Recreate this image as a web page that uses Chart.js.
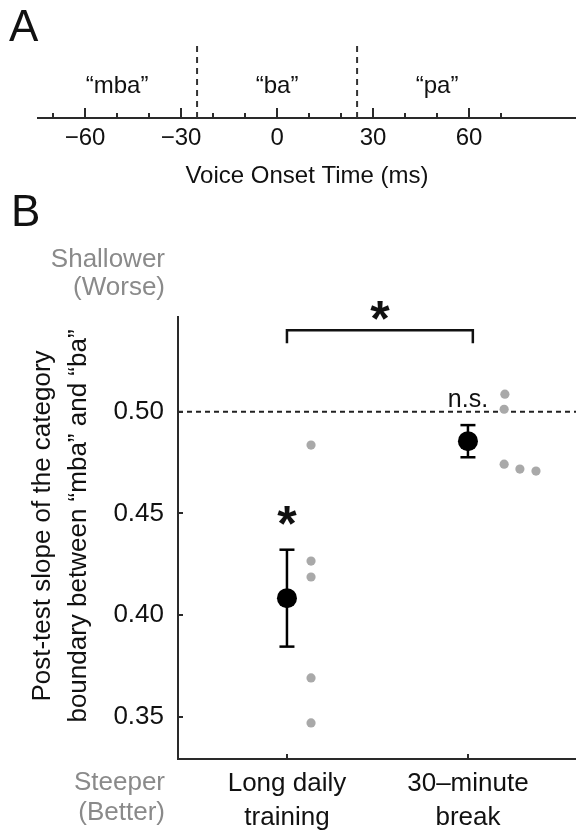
<!DOCTYPE html>
<html><head><meta charset="utf-8">
<script src="https://cdn.jsdelivr.net/npm/chart.js@4"></script>
<style>
html,body{margin:0;padding:0;background:#fff;width:576px;height:834px;overflow:hidden}
canvas{position:absolute;left:0}
#a{top:0}
#b{top:180px}
</style></head><body>
<canvas id="a" width="576" height="200"></canvas>
<canvas id="b" width="576" height="654"></canvas>
<script>
// ---------- Panel A data ----------
const votMajorTicks = [-60, -30, 0, 30, 60];
const votMinorTicks = [-70, -50, -40, -20, -10, 10, 20, 40, 50, 70];
const categoryBoundaries = [-25, 25];
const syllableLabels = ['“mba”', '“ba”', '“pa”'];
const syllableCenters = [-50, 0, 50];

// ---------- Panel B data ----------
const groupTickLabels = [['Long daily', 'training'], ['30–minute', 'break']];
const groupMeans = [0.4084, 0.4855];
const groupSEM = [0.0238, 0.0079];
const longDailyX = [1.133, 1.133, 1.133, 1.133, 1.133];
const longDailySlopes = [0.4836, 0.4266, 0.4188, 0.3692, 0.3471];
const breakX = [2.204, 2.2, 2.2, 2.287, 2.376];
const breakSlopes = [0.5086, 0.5012, 0.4742, 0.4718, 0.4708];
const slopeTicks = [0.35, 0.40, 0.45, 0.50];
const chanceSlope = 0.50;
const bracketX = [1, 2.027];
const bracketY = [0.5336, 0.5400];

const FAM = '"Liberation Sans", Arial, Helvetica, sans-serif';
const INK = '#111';
const AXIS = '#2a2a2a';
const GREY_TXT = '#8a8a8a';
const GREY_DOT = '#a9a9a9';

// ================= Panel A =================
const aMin = -74.7, aMax = 93.4;
const panelAPlugin = {
  id: 'panelA',
  afterDraw(chart) {
    const ctx = chart.ctx, x = chart.scales.x, ca = chart.chartArea;
    ctx.save();
    ctx.strokeStyle = AXIS; ctx.lineWidth = 2;
    votMajorTicks.forEach(v => { const p = Math.round(x.getPixelForValue(v)); ctx.beginPath(); ctx.moveTo(p, ca.bottom); ctx.lineTo(p, ca.bottom - 10); ctx.stroke(); });
    votMinorTicks.forEach(v => { const p = Math.round(x.getPixelForValue(v)); ctx.beginPath(); ctx.moveTo(p, ca.bottom); ctx.lineTo(p, ca.bottom - 5); ctx.stroke(); });
    ctx.fillStyle = INK;
    ctx.font = '24px ' + FAM; ctx.textAlign = 'center'; ctx.textBaseline = 'alphabetic';
    syllableLabels.forEach((t, i) => ctx.fillText(t, x.getPixelForValue(syllableCenters[i]), 93));
    ctx.font = '44px ' + FAM; ctx.textAlign = 'left';
    ctx.fillText('A', 9, 41);
    ctx.restore();
  }
};
new Chart(document.getElementById('a'), {
  type: 'line',
  data: { datasets: categoryBoundaries.map(v => ({
    data: [{x: v, y: 0}, {x: v, y: 1}], borderColor: '#333', borderWidth: 2, borderDash: [6, 5], pointRadius: 0
  })) },
  options: {
    responsive: false, animation: false, devicePixelRatio: 1,
    layout: { autoPadding: false, padding: { left: 38, right: 0, top: 45, bottom: 0 } },
    plugins: { legend: { display: false }, tooltip: { enabled: false } },
    scales: {
      x: {
        type: 'linear', min: aMin, max: aMax,
        afterBuildTicks: s => { s.ticks = votMajorTicks.map(v => ({ value: v })); },
        afterFit: s => { s.height = 82; },
        ticks: { callback: v => (v < 0 ? '−' + Math.abs(v) : String(v)), font: { family: FAM, size: 24 }, color: INK, padding: 6, maxRotation: 0, autoSkip: false },
        grid: { display: false, drawTicks: false },
        border: { display: true, color: AXIS, width: 2 },
        title: { display: true, text: 'Voice Onset Time (ms)', font: { family: FAM, size: 24, lineHeight: 1.2 }, color: INK, padding: { top: 0, bottom: 9 } }
      },
      y: { display: false, min: 0, max: 1 }
    }
  },
  plugins: [panelAPlugin]
});

// ================= Panel B =================
const bMinX = 0.398, bMaxX = 2.597, bMinY = 0.3294, bMaxY = 0.5465;
const panelBPlugin = {
  id: 'panelB',
  afterDraw(chart) {
    const ctx = chart.ctx, x = chart.scales.x, y = chart.scales.y, ca = chart.chartArea;
    ctx.save();
    ctx.strokeStyle = AXIS; ctx.lineWidth = 2;
    slopeTicks.forEach(v => { const p = Math.round(y.getPixelForValue(v)); ctx.beginPath(); ctx.moveTo(ca.left, p); ctx.lineTo(ca.left + 5, p); ctx.stroke(); });
    [1, 2].forEach(v => { const p = Math.round(x.getPixelForValue(v)); ctx.beginPath(); ctx.moveTo(p, ca.bottom); ctx.lineTo(p, ca.bottom - 5); ctx.stroke(); });
    // panel letter
    ctx.fillStyle = INK; ctx.textBaseline = 'alphabetic';
    ctx.font = '44px ' + FAM; ctx.textAlign = 'left';
    ctx.fillText('B', 11, 46);
    // direction hints
    ctx.fillStyle = GREY_TXT; ctx.font = '26px ' + FAM; ctx.textAlign = 'right';
    ctx.fillText('Shallower', 165, 87);
    ctx.fillText('(Worse)', 165, 115);
    ctx.fillText('Steeper', 165, 610);
    ctx.fillText('(Better)', 165, 640);
    // y title
    ctx.fillStyle = INK; ctx.textAlign = 'center';
    ctx.save();
    ctx.translate(0, 346); ctx.rotate(-Math.PI / 2);
    ctx.fillText('Post-test slope of the category', 0, 50);
    ctx.fillText('boundary between “mba” and “ba”', 0, 86);
    ctx.restore();
    // significance marks
    ctx.font = 'bold 50px ' + FAM; ctx.textAlign = 'center';
    ctx.fillText('*', x.getPixelForValue((bracketX[0] + bracketX[1]) / 2), y.getPixelForValue(bracketY[1]) + 6);
    ctx.fillText('*', x.getPixelForValue(1), y.getPixelForValue(groupMeans[0] + groupSEM[0]) - 9);
    ctx.font = '25px ' + FAM;
    ctx.fillText('n.s.', x.getPixelForValue(2), y.getPixelForValue(groupMeans[1] + groupSEM[1]) - 18);
    ctx.restore();
  }
};
const errorBarSets = groupMeans.map((m, i) => ({
  type: 'line',
  data: [{ x: i + 1, y: m - groupSEM[i] }, { x: i + 1, y: m + groupSEM[i] }],
  borderColor: '#000', borderWidth: 2.5,
  pointStyle: 'line', pointRadius: 7.5, pointBorderWidth: 2.5, pointBorderColor: '#000', pointBackgroundColor: '#000'
}));
new Chart(document.getElementById('b'), {
  type: 'scatter',
  data: { datasets: [
    { data: groupMeans.map((m, i) => ({ x: i + 1, y: m })), pointRadius: 10, pointBackgroundColor: '#000', pointBorderWidth: 0 },
    ...errorBarSets,
    { data: longDailyX.map((v, i) => ({ x: v, y: longDailySlopes[i] })), pointRadius: 4.6, pointBackgroundColor: GREY_DOT, pointBorderWidth: 0 },
    { data: breakX.map((v, i) => ({ x: v, y: breakSlopes[i] })), pointRadius: 4.6, pointBackgroundColor: GREY_DOT, pointBorderWidth: 0 },
    { type: 'line', data: [{ x: bracketX[0], y: bracketY[0] }, { x: bracketX[0], y: bracketY[1] }, { x: bracketX[1], y: bracketY[1] }, { x: bracketX[1], y: bracketY[0] }],
      borderColor: INK, borderWidth: 2.5, pointRadius: 0 },
    { type: 'line', data: [{ x: bMinX, y: chanceSlope }, { x: bMaxX, y: chanceSlope }], borderColor: '#222', borderWidth: 2, borderDash: [5, 4], pointRadius: 0 }
  ] },
  options: {
    responsive: false, animation: false, devicePixelRatio: 1,
    layout: { autoPadding: false, padding: { left: 0, right: 0, top: 137, bottom: 0 } },
    plugins: { legend: { display: false }, tooltip: { enabled: false } },
    scales: {
      x: {
        type: 'linear', min: bMinX, max: bMaxX,
        afterBuildTicks: s => { s.ticks = [1, 2].map(v => ({ value: v })); },
        afterFit: s => { s.height = 75; },
        ticks: { callback: v => groupTickLabels[v - 1], font: { family: FAM, size: 26, lineHeight: 1.3 }, color: INK, padding: 8, maxRotation: 0, autoSkip: false },
        grid: { display: false, drawTicks: false },
        border: { display: true, color: AXIS, width: 2 }
      },
      y: {
        type: 'linear', min: bMinY, max: bMaxY,
        afterBuildTicks: s => { s.ticks = slopeTicks.map(v => ({ value: v })); },
        afterFit: s => { s.width = 178; },
        ticks: { callback: v => v.toFixed(2), font: { family: FAM, size: 26 }, color: INK, padding: 14, autoSkip: false },
        grid: { display: false, drawTicks: false },
        border: { display: true, color: AXIS, width: 2 }
      }
    }
  },
  plugins: [panelBPlugin]
});
</script>
</body></html>
